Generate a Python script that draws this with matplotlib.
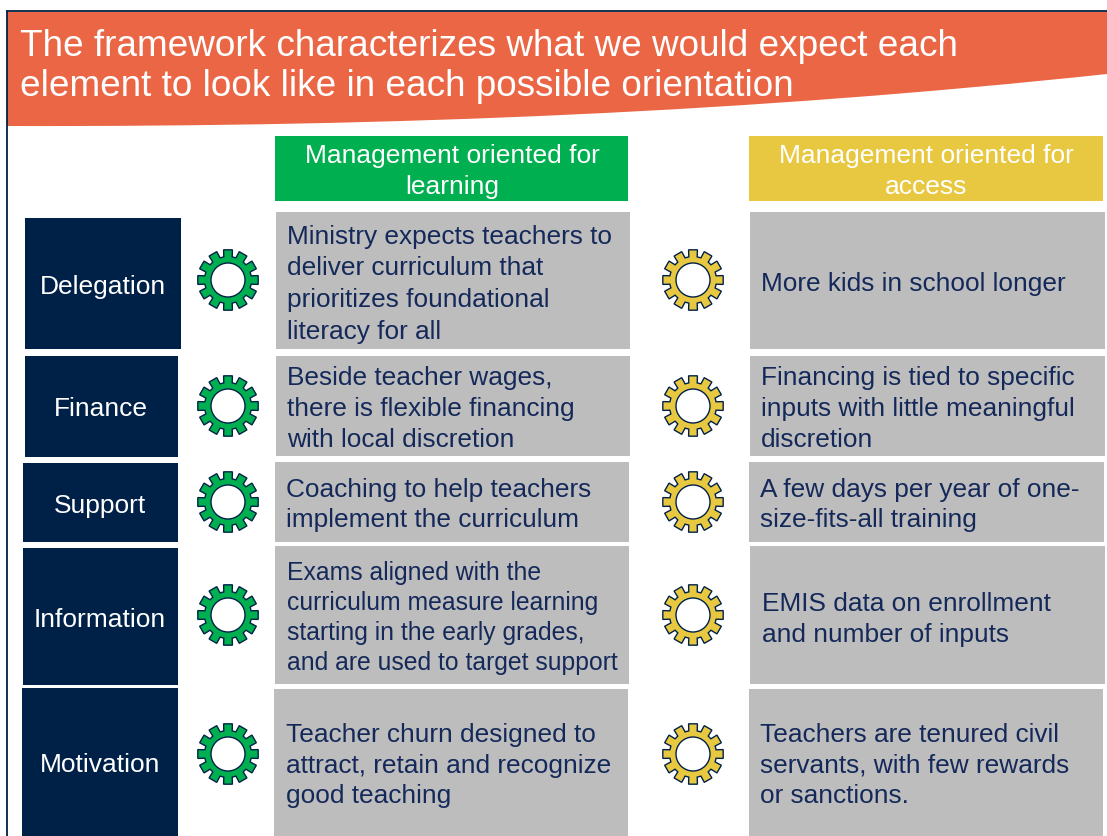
import numpy as np
import matplotlib.pyplot as plt
from matplotlib.patches import Rectangle, PathPatch, Polygon, Circle
from matplotlib.path import Path

plt.rcParams['font.family'] = ['Liberation Sans', 'DejaVu Sans']

NAVY = '#002147'
INK = '#14295a'
GREY = '#bdbdbd'
GREEN = '#00b050'
YELLOW = '#e9c841'
ORANGE = '#ea6645'

title_lines = ['The framework characterizes what we would expect each',
               'element to look like in each possible orientation']
head_learning = ['Management oriented for', 'learning']
head_access = ['Management oriented for', 'access']
elements = ['Delegation', 'Finance', 'Support', 'Information', 'Motivation']
learning = [
    ['Ministry expects teachers to', 'deliver curriculum that',
     'prioritizes foundational', 'literacy for all'],
    ['Beside teacher wages,', 'there is flexible financing', 'with local discretion'],
    ['Coaching to help teachers', 'implement the curriculum'],
    ['Exams aligned with the', 'curriculum measure learning',
     'starting in the early grades,', 'and are used to target support'],
    ['Teacher churn designed to', 'attract, retain and recognize', 'good teaching'],
]
access = [
    ['More kids in school longer'],
    ['Financing is tied to specific', 'inputs with little meaningful', 'discretion'],
    ['A few days per year of one-', 'size-fits-all training'],
    ['EMIS data on enrollment', 'and number of inputs'],
    ['Teachers are tenured civil', 'servants, with few rewards', 'or sanctions.'],
]

# layout in pixels: x0, x1, y0, y1
navy_boxes = [(25, 181, 218, 349), (25, 178, 356, 457), (23, 178, 463, 542),
              (23, 178, 548, 685), (22, 178, 688, 836)]
left_boxes = [(276, 630, 212, 349), (276, 630, 356, 456), (275, 629, 462, 542),
              (275, 629, 546, 684), (274, 628, 689, 836)]
right_boxes = [(750, 1105, 212, 349), (750, 1105, 356, 456), (749, 1104, 462, 542),
               (750, 1105, 546, 684), (749, 1103, 689, 836)]
label_pos = [(103, 294), (101, 416), (100, 513), (100, 627), (100, 772)]
gear_y = [280, 406, 502, 615, 754]
left_text = [(287, [244, 275, 307, 339]), (287, [385, 416, 447]), (286, [497, 527]),
             (287, [580, 610, 640, 670]), (286, [742, 773, 803])]
right_text = [(761, [291]), (761, [385, 416, 447]), (760, [497, 527]),
              (762, [611, 642]), (760, [742, 773, 803])]


def box(ax, b, color):
    ax.add_patch(Rectangle((b[0], b[2]), b[1] - b[0], b[3] - b[2], fc=color, ec='none'))


def gear(ax, cx, cy, color):
    # 12 teeth, one pointing straight up
    pts = []
    for i in range(12):
        a = i * 2 * np.pi / 12 - np.pi / 2
        for da, r in [(-0.18, 23.5), (-0.145, 30.5), (0.145, 30.5), (0.18, 23.5)]:
            pts.append((cx + r * np.cos(a + da), cy + r * np.sin(a + da)))
    ax.add_patch(Polygon(pts, closed=True, fc=color, ec=NAVY, lw=1))
    ax.add_patch(Circle((cx, cy), 17, fc='white', ec=NAVY, lw=1))


fig = plt.figure(figsize=(11.07, 8.36), dpi=100)
ax = fig.add_axes([0, 0, 1, 1])
ax.set_xlim(0, 1107)
ax.set_ylim(836, 0)
ax.axis('off')

# banner with curved lower edge
banner = Path([(7, 12), (1107, 12), (1107, 74), (750, 112), (400, 127), (7, 126), (7, 12)],
              [Path.MOVETO, Path.LINETO, Path.LINETO, Path.CURVE4, Path.CURVE4, Path.CURVE4,
               Path.CLOSEPOLY])
ax.add_patch(PathPatch(banner, fc=ORANGE, ec='none'))

# slide frame
ax.plot([6.5, 6.5], [11, 836], color=NAVY, lw=1.3, solid_capstyle='butt')
ax.plot([6, 1107], [11, 11], color=NAVY, lw=1.3, solid_capstyle='butt')

for line, y in zip(title_lines, [56, 96]):
    ax.text(20, y, line, color='white', fontsize=26.6, va='baseline', ha='left')

# column headers
box(ax, (275, 628, 136, 201), GREEN)
box(ax, (749, 1103, 136, 201), YELLOW)
for cx, lines in [(452, head_learning), (926, head_access)]:
    for line, y in zip(lines, [163, 194]):
        ax.text(cx, y, line, color='white', fontsize=19, va='baseline', ha='center')

for i, name in enumerate(elements):
    box(ax, navy_boxes[i], NAVY)
    box(ax, left_boxes[i], GREY)
    box(ax, right_boxes[i], GREY)
    ax.text(label_pos[i][0], label_pos[i][1], name, color='white', fontsize=19,
            va='baseline', ha='center')
    gear(ax, 228, gear_y[i], GREEN)
    gear(ax, 693, gear_y[i], YELLOW)
    size_left = 17.8 if name == 'Information' else 18.9
    for line, y in zip(learning[i], left_text[i][1]):
        ax.text(left_text[i][0], y, line, color=INK, fontsize=size_left, va='baseline', ha='left')
    for line, y in zip(access[i], right_text[i][1]):
        ax.text(right_text[i][0], y, line, color=INK, fontsize=18.9, va='baseline', ha='left')

fig.savefig('out.png', dpi=100)
